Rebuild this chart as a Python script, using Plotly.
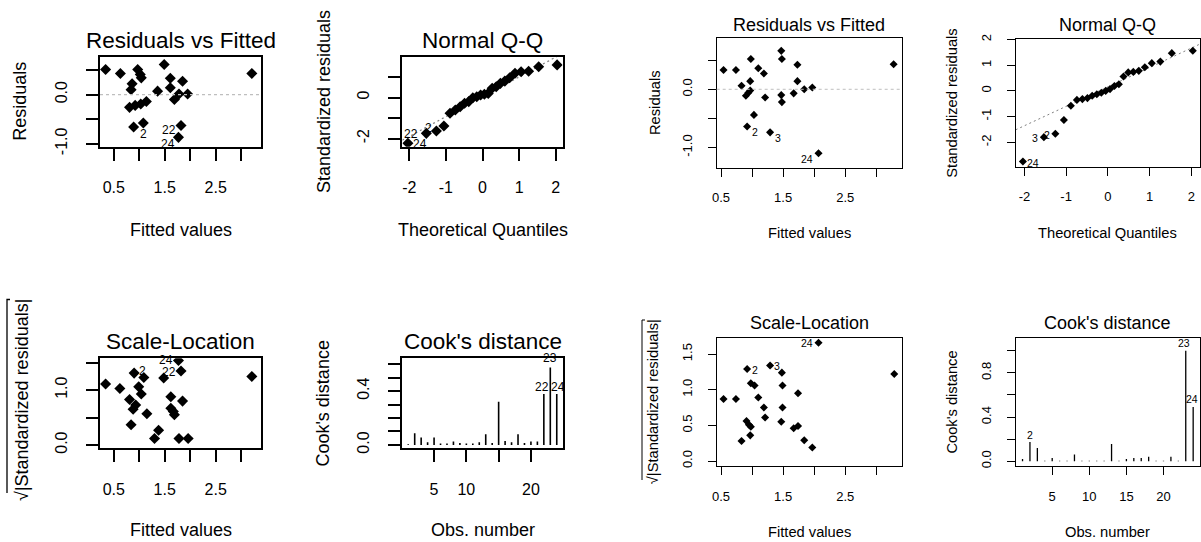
import plotly.graph_objects as go

W, H = 1201, 542
FONT = "Liberation Sans, Arial, sans-serif"

# ---------------- data: left set of diagnostics ----------------
theo_q = [-2.037, -1.534, -1.259, -1.054, -0.887, -0.742, -0.610, -0.489, -0.375, -0.264, -0.157, -0.052,
          0.052, 0.157, 0.264, 0.375, 0.489, 0.610, 0.742, 0.887, 1.054, 1.259, 1.534, 2.037]

L_fitted = [0.34, 0.63, 0.97, 1.02, 1.04, 1.49, 1.61, 1.61, 1.85, 3.21, 0.86, 0.84, 1.36, 1.78, 1.95, 1.69,
            0.81, 0.92, 1.03, 1.14, 0.89, 1.08, 1.82, 1.77]
L_resid = [0.51, 0.43, 0.51, 0.41, 0.34, 0.61, 0.33, 0.14, 0.27, 0.43, 0.22, 0.10, 0.07, 0.01, 0.01, -0.10,
           -0.26, -0.22, -0.19, -0.14, -0.66, -0.58, -0.63, -0.87]
L_resid_labels = [(1.08, -0.80, "2"), (1.58, -0.73, "22"), (1.56, -1.01, "24")]

L_qq_sample = [-2.23, -1.75, -1.63, -1.39, -0.77, -0.61, -0.45, -0.28, -0.20, -0.01, 0.04, 0.12,
               0.16, 0.20, 0.45, 0.52, 0.69, 0.80, 0.96, 1.18, 1.26, 1.28, 1.50, 1.59]
L_qq_line = (0.034, 0.968)  # intercept, slope
L_qq_labels = [(-1.95, -1.80, "22"), (-1.47, -1.50, "2"), (-1.71, -2.28, "24")]

L_sl_fitted = [0.34, 0.62, 0.90, 1.09, 0.99, 1.04, 0.81, 0.93, 0.88, 1.15, 0.84, 1.38, 1.30, 1.78, 1.96, 1.48,
               1.77, 1.82, 1.62, 1.85, 1.62, 1.67, 1.69, 3.21]
L_sl_sqrt = [1.11, 1.03, 1.31, 1.23, 1.06, 0.93, 0.83, 0.73, 0.65, 0.57, 0.37, 0.27, 0.12, 0.12, 0.12, 1.22,
             1.54, 1.35, 0.88, 0.80, 0.67, 0.61, 0.55, 1.25]
L_sl_labels = [(1.53, 1.55, "24"), (1.59, 1.33, "22"), (1.07, 1.34, "2")]

obs = list(range(1, 25))
L_cook = [0.005, 0.087, 0.055, 0.02, 0.055, 0.01, 0.01, 0.025, 0.015, 0.01, 0.01, 0.02, 0.08, 0.015, 0.32,
          0.03, 0.02, 0.08, 0.015, 0.025, 0.025, 0.378, 0.575, 0.378]
L_cook_labels = [(22.99, 0.642, "23"), (21.75, 0.432, "22"), (24.2, 0.432, "24")]

# ---------------- data: right set of diagnostics ----------------
R_fitted = [0.54, 0.74, 0.98, 1.10, 1.19, 0.97, 0.83, 0.97, 0.94, 0.90, 1.21, 1.03, 0.92, 1.29, 2.07, 1.47,
            1.48, 1.73, 1.73, 1.47, 1.48, 1.67, 1.84, 1.97, 3.28]
R_resid = [0.33, 0.33, 0.52, 0.36, 0.27, 0.14, 0.06, -0.02, -0.06, -0.11, -0.14, -0.44, -0.64, -0.74, -1.10,
           0.66, 0.52, 0.42, 0.14, -0.10, -0.22, -0.07, 0.00, 0.03, 0.43]
R_resid_labels = [(1.05, -0.74, "2"), (1.41, -0.83, "3"), (1.89, -1.20, "24")]

R_qq_sample = [-2.75, -1.80, -1.67, -1.13, -0.58, -0.35, -0.32, -0.28, -0.19, -0.13, -0.07, 0.00,
               0.07, 0.19, 0.26, 0.56, 0.72, 0.74, 0.78, 0.92, 1.08, 1.14, 1.47, 1.56]
R_qq_line = (0.155, 0.755)
R_qq_labels = [(-1.79, -2.79, "24"), (-1.75, -1.84, "3"), (-1.47, -1.71, "2")]

R_sl_fitted = [0.54, 0.74, 0.92, 0.98, 1.04, 1.10, 1.19, 1.21, 0.91, 0.95, 0.98, 0.97, 0.83, 1.29, 1.48, 1.49,
               1.49, 1.47, 1.74, 1.74, 1.67, 1.84, 1.97, 2.07, 3.29]
R_sl_sqrt = [0.87, 0.87, 1.29, 1.09, 1.06, 0.89, 0.75, 0.61, 0.56, 0.51, 0.48, 0.36, 0.28, 1.34, 1.24, 1.06,
             0.75, 0.55, 0.95, 0.49, 0.46, 0.29, 0.19, 1.66, 1.22]
R_sl_labels = [(1.05, 1.28, "2"), (1.40, 1.33, "3"), (1.89, 1.65, "24")]

R_cook = [0.02, 0.175, 0.12, 0.005, 0.03, 0.005, 0.005, 0.06, 0.005, 0.005, 0.005, 0.005, 0.157, 0.005, 0.02,
          0.03, 0.03, 0.04, 0.005, 0.005, 0.04, 0.005, 1.0, 0.49]
R_cook_labels = [(2.0, 0.24, "2"), (22.8, 1.07, "23"), (23.9, 0.56, "24")]

# ---------------- layout helpers ----------------
fig = go.Figure()


def dx(a, b):
    return [a / W, b / W]


def dy(a, b):
    return [1 - b / H, 1 - a / H]


def xn(n):
    return "x" if n == 1 else f"x{n}"


def yn(n):
    return "y" if n == 1 else f"y{n}"


styles = {
    "L": dict(tick=16, lab=18, title=22.5, id=12, lw=2, tl=12, ms=8.5, st_x=13, st_y=13),
    "R": dict(tick=13, lab=14.7, title=18, id=10.5, lw=1.3, tl=8, ms=6.2, st_x=10, st_y=10),
}


def add_axes(n, st, xd, yd, xr, yr, xt, xtt, yt, ytt):
    s = styles[st]
    common = dict(showline=True, mirror=True, linecolor="black", linewidth=s["lw"], ticks="outside",
                  ticklen=s["tl"], tickwidth=s["lw"], tickcolor="black", showgrid=False, zeroline=False,
                  tickfont=dict(family=FONT, size=s["tick"], color="black"), fixedrange=True)
    xa = "xaxis" if n == 1 else f"xaxis{n}"
    ya = "yaxis" if n == 1 else f"yaxis{n}"
    fig.layout[xa] = dict(common, domain=xd, range=xr, tickvals=xt, ticktext=xtt, anchor=yn(n),
                          ticklabelstandoff=s["st_x"])
    fig.layout[ya] = dict(common, domain=yd, range=yr, tickvals=yt, ticktext=ytt, anchor=xn(n),
                          tickangle=-90, ticklabelstandoff=s["st_y"])


def pts(n, st, x, y):
    fig.add_trace(go.Scatter(x=x, y=y, mode="markers", xaxis=xn(n), yaxis=yn(n),
                             marker=dict(symbol="diamond", size=styles[st]["ms"], color="black",
                                         line=dict(width=0)), showlegend=False, hoverinfo="skip"))


def ids(n, st, labels):
    for x, y, t in labels:
        fig.add_annotation(x=x, y=y, xref=xn(n), yref=yn(n), text=t, showarrow=False,
                           font=dict(family=FONT, size=styles[st]["id"], color="black"))


def zero_line(n, st):
    fig.add_shape(type="line", xref=f"{xn(n)} domain", yref=yn(n), x0=0, x1=1, y0=0, y1=0,
                  line=dict(color="#BEBEBE", width=1.2 if st == "L" else 1, dash="3px,3px"))


def qq_line(n, st, xr, params):
    b0, b1 = params
    xs = list(xr)
    fig.add_trace(go.Scatter(x=xs, y=[b0 + b1 * v for v in xs], mode="lines", xaxis=xn(n), yaxis=yn(n),
                             line=dict(color="#7F7F7F", width=1.2 if st == "L" else 1, dash="2px,3px"),
                             showlegend=False, hoverinfo="skip"))


def cook_bars(n, st, vals):
    xs, ys = [], []
    for i, v in zip(obs, vals):
        xs += [i, i, None]
        ys += [0, v, None]
    fig.add_trace(go.Scatter(x=xs, y=ys, mode="lines", xaxis=xn(n), yaxis=yn(n),
                             line=dict(color="black", width=1.6 if st == "L" else 1.3),
                             showlegend=False, hoverinfo="skip"))


def text_px(x, y, t, size, angle=0):
    fig.add_annotation(x=x / W, y=1 - y / H, xref="paper", yref="paper", text=t, showarrow=False,
                       textangle=angle, xanchor="center", yanchor="middle",
                       font=dict(family=FONT, size=size, color="black"))


def radical_bar(x, y_top, y_bot, w):
    # overline of the square-root sign in the rotated y-axis label
    fig.add_shape(type="path", xref="paper", yref="paper",
                  path=f"M {(x + 3) / W},{1 - y_top / H} L {x / W},{1 - y_top / H} L {x / W},{1 - y_bot / H}",
                  line=dict(color="black", width=w))


fit_ticks = [0.5, 1.0, 1.5, 2.0, 2.5, 3.0]
fit_text = ["0.5", "", "1.5", "", "2.5", ""]
res_ticks = [-1.0, -0.5, 0.0, 0.5]
res_text = ["-1.0", "", "0.0", ""]
q_ticks = [-2, -1, 0, 1, 2]
q_text = ["-2", "-1", "0", "1", "2"]

# ---- Left: Residuals vs Fitted ----
xr = [0.23, 3.39]
add_axes(1, "L", dx(100, 261), dy(56.7, 146.7), xr, [-1.06, 0.77], fit_ticks, fit_text, res_ticks, res_text)
zero_line(1, "L")
pts(1, "L", L_fitted, L_resid)
ids(1, "L", L_resid_labels)

# ---- Left: Normal Q-Q ----
qxr = [-2.19, 2.19]
add_axes(2, "L", dx(402.3, 562.7), dy(56.7, 146.7), qxr, [-2.40, 1.99], q_ticks, q_text,
         [-2, -1, 0, 1], ["-2", "", "0", ""])
qq_line(2, "L", qxr, L_qq_line)
pts(2, "L", theo_q, L_qq_sample)
ids(2, "L", L_qq_labels)

# ---- Left: Scale-Location ----
add_axes(3, "L", dx(100, 261), dy(358.3, 448.3), xr, [-0.06, 1.58], fit_ticks, fit_text,
         [0, 0.5, 1.0, 1.5], ["0.0", "", "1.0", ""])
pts(3, "L", L_sl_fitted, L_sl_sqrt)
ids(3, "L", L_sl_labels)

# ---- Left: Cook's distance ----
add_axes(4, "L", dx(402.3, 562.7), dy(358.3, 448.3), [0.08, 24.92], [-0.0247, 0.643],
         [5, 10, 15, 20], ["5", "10", "", "20"],
         [0, 0.1, 0.2, 0.3, 0.4, 0.5, 0.6], ["0.0", "", "", "", "0.4", "", ""])
cook_bars(4, "L", L_cook)
ids(4, "L", L_cook_labels)

# ---- Right: Residuals vs Fitted ----
xr2 = [0.43, 3.41]
add_axes(5, "R", dx(716.7, 901.7), dy(38.3, 167.7), xr2, [-1.347, 0.876], fit_ticks, fit_text, res_ticks, res_text)
zero_line(5, "R")
pts(5, "R", R_fitted, R_resid)
ids(5, "R", R_resid_labels)

# ---- Right: Normal Q-Q ----
qxr2 = [-2.21, 2.21]
add_axes(6, "R", dx(1015.7, 1200), dy(39, 166.7), qxr2, [-2.95, 2.02], q_ticks, q_text, q_ticks, q_text)
qq_line(6, "R", qxr2, R_qq_line)
pts(6, "R", theo_q, R_qq_sample)
ids(6, "R", R_qq_labels)

# ---- Right: Scale-Location ----
add_axes(7, "R", dx(716.7, 901.7), dy(337.7, 466), xr2, [-0.07, 1.73], fit_ticks, fit_text,
         [0, 0.5, 1.0, 1.5], ["0.0", "0.5", "1.0", "1.5"])
pts(7, "R", R_sl_fitted, R_sl_sqrt)
ids(7, "R", R_sl_labels)

# ---- Right: Cook's distance ----
add_axes(8, "R", dx(1015.7, 1200), dy(337.7, 466), [0.08, 24.92], [-0.043, 1.118],
         [5, 10, 15, 20], ["5", "10", "15", "20"],
         [0, 0.2, 0.4, 0.6, 0.8, 1.0], ["0.0", "", "0.4", "", "0.8", ""])
cook_bars(8, "R", R_cook)
ids(8, "R", R_cook_labels)

# ---- titles & axis labels ----
L, R = styles["L"], styles["R"]
text_px(180.5, 40, "Residuals vs Fitted", L["title"])
text_px(180.5, 230, "Fitted values", L["lab"])
text_px(20, 101.7, "Residuals", L["lab"], -90)
text_px(482.5, 40, "Normal Q-Q", L["title"])
text_px(482.5, 230, "Theoretical Quantiles", L["lab"])
text_px(323.3, 101.7, "Standardized residuals", L["lab"], -90)
text_px(180.5, 341.7, "Scale-Location", L["title"])
text_px(180.5, 530, "Fitted values", L["lab"])
text_px(21.5, 400.5, "√|Standardized residuals|", L["lab"], -90)
radical_bar(7, 299.5, 493, 1.3)
text_px(482.5, 341.7, "Cook's distance", L["title"])
text_px(482.5, 530, "Obs. number", L["lab"])
text_px(323.3, 403.3, "Cook's distance", L["lab"], -90)

text_px(809.2, 25, "Residuals vs Fitted", R["title"])
text_px(809.2, 233.3, "Fitted values", R["lab"])
text_px(655, 103, "Residuals", R["lab"], -90)
text_px(1107.8, 25, "Normal Q-Q", R["title"])
text_px(1107.8, 233.3, "Theoretical Quantiles", R["lab"])
text_px(951.7, 103, "Standardized residuals", R["lab"], -90)
text_px(809.2, 323.3, "Scale-Location", R["title"])
text_px(809.2, 531.7, "Fitted values", R["lab"])
text_px(653.3, 401.9, "√|Standardized residuals|", R["lab"], -90)
radical_bar(642, 320, 480, 1)
text_px(1107.8, 323.3, "Cook's distance", R["title"])
text_px(1107.8, 531.7, "Obs. number", R["lab"])
text_px(951.7, 401.9, "Cook's distance", R["lab"], -90)

fig.update_layout(width=W, height=H, margin=dict(l=0, r=0, t=0, b=0, autoexpand=False),
                  paper_bgcolor="white", plot_bgcolor="white", showlegend=False,
                  font=dict(family=FONT, color="black"))

fig.write_html("out.html", config={"displayModeBar": False},
               post_script="document.body.style.margin='0';document.body.style.overflow='hidden';")
